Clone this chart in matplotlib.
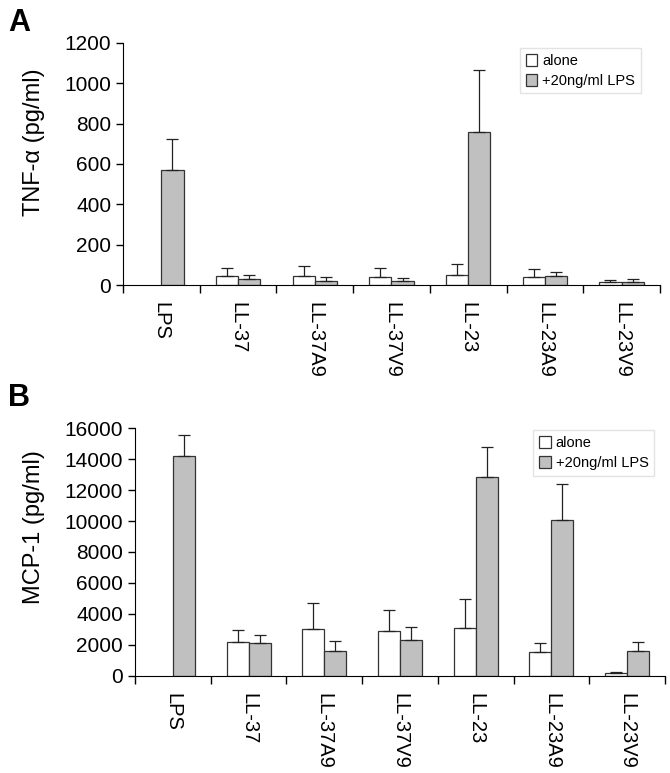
"""
Two-panel bar chart: TNF-alpha and MCP-1 release with peptides alone or with LPS.
"""

import numpy as np
from matplotlib import pyplot as plt

plt.rcParams['font.family'] = ['Liberation Sans', 'DejaVu Sans']

categories = ['LPS', 'LL-37', 'LL-37A9', 'LL-37V9', 'LL-23', 'LL-23A9', 'LL-23V9']
series_names = ['alone', '+20ng/ml LPS']

tnf_alone = [np.nan, 46, 46, 41, 51, 41, 15]
tnf_alone_err = [0, 36, 46, 41, 51, 36, 11]
tnf_lps = [570, 30, 21, 21, 757, 46, 15]
tnf_lps_err = [155, 21, 20, 15, 309, 20, 16]

mcp_alone = [np.nan, 2170, 3050, 2920, 3110, 1530, 170]
mcp_alone_err = [0, 820, 1650, 1330, 1850, 580, 90]
mcp_lps = [14220, 2100, 1590, 2320, 12840, 10050, 1590]
mcp_lps_err = [1350, 520, 670, 860, 1910, 2360, 600]


def draw_panel(ax, alone, alone_err, lps, lps_err, ymax, ystep, ylabel, label_xy, leg_anchor):
    x = np.arange(len(categories)) + 0.5
    w = 0.29
    zeros = np.zeros(len(categories))
    ekw = dict(ecolor='#222222', elinewidth=0.9, capsize=4, capthick=0.9)
    ax.bar(x - w / 2, alone, w, color='white', edgecolor='#333333', linewidth=0.9,
           yerr=[zeros, alone_err], error_kw=ekw, label=series_names[0], zorder=2)
    ax.bar(x + w / 2, lps, w, color='#c0c0c0', edgecolor='#333333', linewidth=0.9,
           yerr=[zeros, lps_err], error_kw=ekw, label=series_names[1], zorder=2)
    ax.set_xlim(0, len(categories))
    ax.set_ylim(0, ymax)
    ax.set_yticks(np.arange(0, ymax + 1, ystep))
    ax.set_xticks(x)
    ax.set_xticklabels(categories, rotation=270, va='top', ha='center', fontsize=14.5)
    ax.set_xticks(np.arange(len(categories) + 1), minor=True)
    ax.tick_params(axis='x', which='major', length=0, pad=12)
    ax.tick_params(axis='x', which='minor', length=6, width=1)
    ax.tick_params(axis='y', labelsize=15, length=5, width=1)
    ax.spines['top'].set_visible(False)
    ax.spines['right'].set_visible(False)
    ax.set_ylabel(ylabel, fontsize=17)
    ax.yaxis.set_label_coords(*label_xy)
    leg = ax.legend(loc='upper right', fontsize=10.5, frameon=True, fancybox=False,
                    handlelength=0.8, handleheight=0.9, handletextpad=0.35,
                    borderpad=0.4, labelspacing=0.4, borderaxespad=0,
                    bbox_to_anchor=leg_anchor)
    leg.get_frame().set_edgecolor('#dddddd')
    leg.get_frame().set_linewidth(1)


def main():
    fig = plt.figure(figsize=(6.7, 7.73), dpi=100)
    ax_a = fig.add_axes([0.1836, 0.6313, 0.8014, 0.3131])
    ax_b = fig.add_axes([0.2015, 0.1255, 0.791, 0.3208])

    draw_panel(ax_a, tnf_alone, tnf_alone_err, tnf_lps, tnf_lps_err, 1200, 200,
               'TNF-α (pg/ml)', (-0.145, 0.59), (0.965, 0.98))
    draw_panel(ax_b, mcp_alone, mcp_alone_err, mcp_lps, mcp_lps_err, 16000, 2000,
               'MCP-1 (pg/ml)', (-0.17, 0.60), (0.98, 0.99))

    fig.text(0.012, 0.99, 'A', fontsize=22, fontweight='bold', va='top')
    fig.text(0.012, 0.505, 'B', fontsize=22, fontweight='bold', va='top')

    plt.savefig('out.png', dpi=100)


if __name__ == '__main__':
    main()
